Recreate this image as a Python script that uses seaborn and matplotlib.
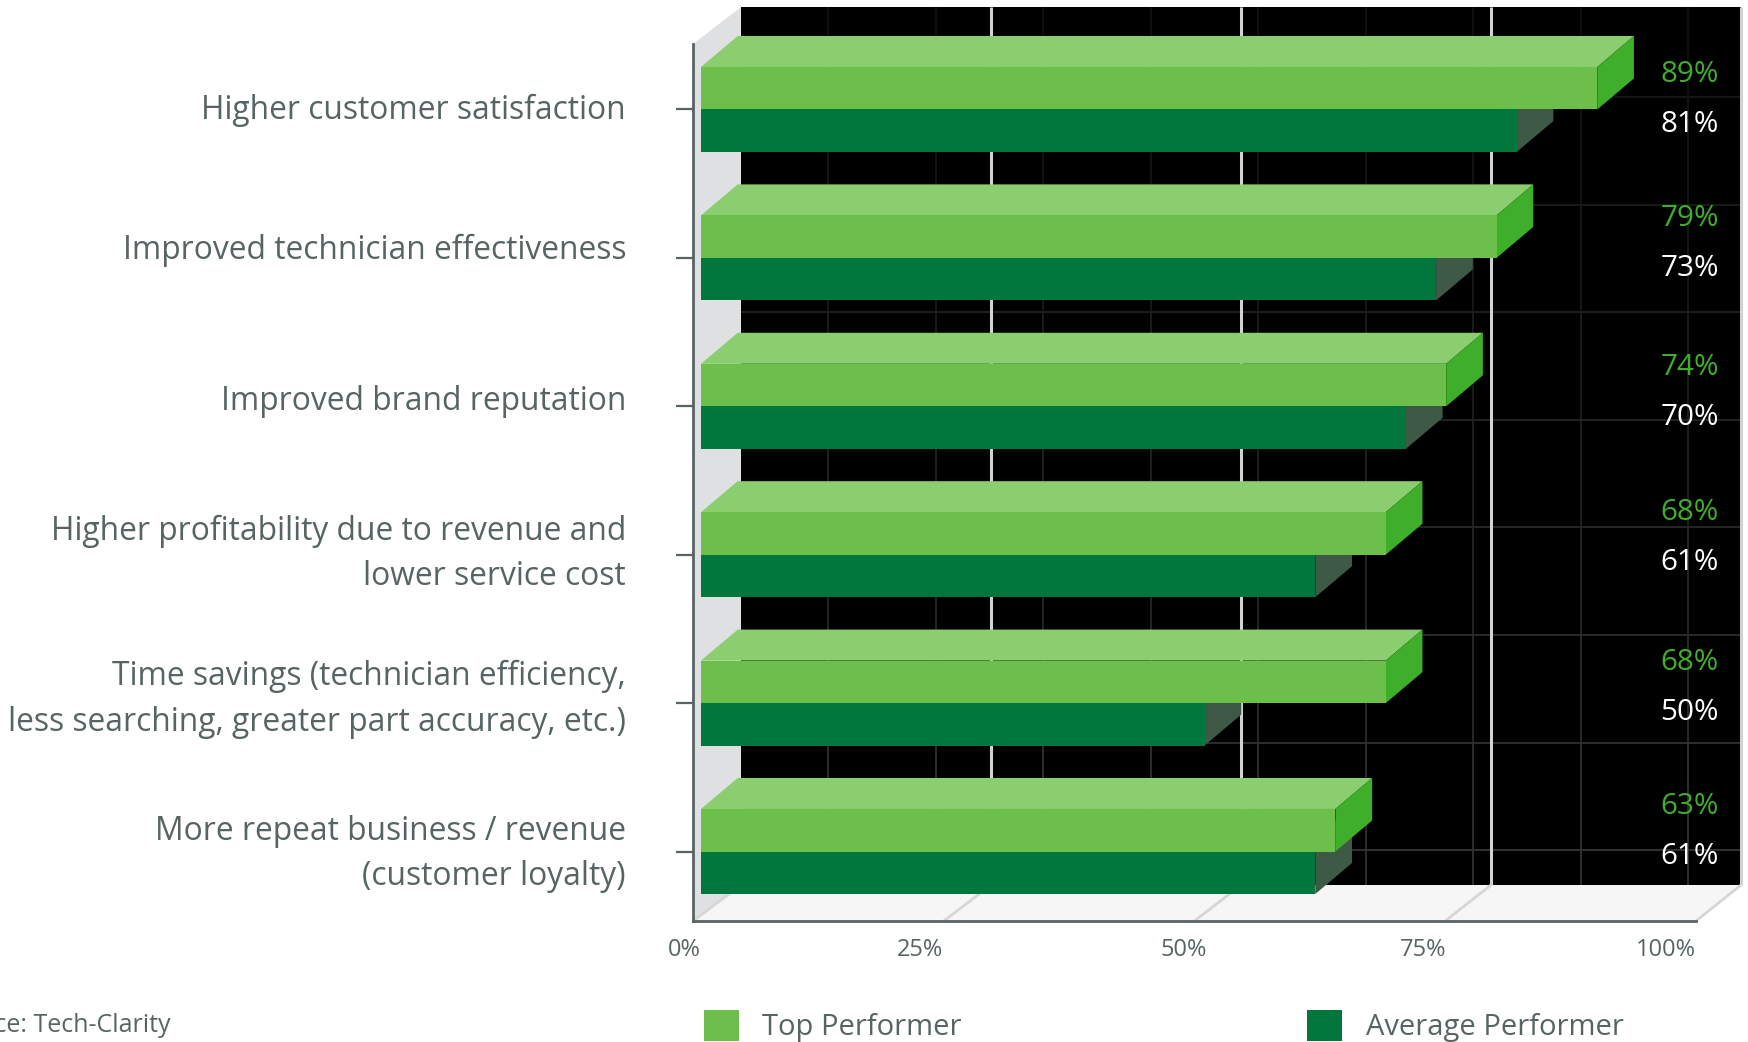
import pandas as pd
import matplotlib
matplotlib.use('Agg')
import matplotlib.pyplot as plt
import seaborn as sns
from matplotlib.patches import Polygon
from matplotlib.transforms import Affine2D

categories = ['Higher customer satisfaction', 'Improved technician effectiveness',
              'Improved brand reputation', 'Higher profitability due to revenue and\nlower service cost',
              'Time savings (technician efficiency,\nless searching, greater part accuracy, etc.)',
              'More repeat business / revenue\n(customer loyalty)']
top_performer = [89, 79, 74, 68, 68, 63]
avg_performer = [81, 73, 70, 61, 50, 61]
series_names = ['Top Performer', 'Average Performer']
x_labels = ['0%', '25%', '50%', '75%', '100%']

# layout, all in pixels from the top left of the picture
W, H = 1748, 1042
bar_x0, px_per_pct = 701, 10.07
front_l, front_r, front_t, front_b = 693, 1696, 44, 921
back_l, back_r, back_t, back_b = 741, 1741, 7, 885
row0, row_step = 109.5, 148.4
depth_x, depth_y = 36.7, 31
x_label_right = [701, 943, 1207, 1446, 1696]
label_mid_y = [100, 244, 392.5, 537, 688, 832]
label_right = 1719
ylabel_shift = [3.3, 12, 9, 11.2, 13.9, 7.8]

grey_text = '#586464'
light_top, light_front, light_side = '#8bce70', '#6dbf4b', '#3fae2a'
dark_front, dark_side = '#02773d', '#3e5a47'

df = pd.DataFrame({'category': categories * 2,
                   'pct': top_performer + avg_performer,
                   'group': [series_names[0]] * 6 + [series_names[1]] * 6})

sns.set_theme(style='white')
plt.rcParams['font.family'] = ['Open Sans', 'DejaVu Sans']

fig = plt.figure(figsize=(W / 100, H / 100), dpi=100)
ax = fig.add_axes([front_l / W, 1 - front_b / H, (front_r - front_l) / W, (front_b - front_t) / H])
ax.patch.set_alpha(0)

sns.barplot(data=df, y='category', x='pct', hue='group', orient='h', ax=ax,
            palette=[light_front, dark_front], saturation=1, width=0.573, gap=0,
            linewidth=0, zorder=5)

ax.set_xlim((front_l - bar_x0) / px_per_pct, (front_r - bar_x0) / px_per_pct)
ax.set_ylim((front_b - row0) / row_step, (front_t - row0) / row_step)
ax.set_xlabel('')
ax.set_ylabel('')

# pixel coords, y going down
px = Affine2D().scale(1, -1).translate(0, H)


def add_poly(points, color, z):
    ax.add_patch(Polygon(points, closed=True, facecolor=color, edgecolor='none',
                         transform=px, clip_on=False, zorder=z))


def add_line(xs, ys, color, lw, z):
    ax.plot(xs, ys, color=color, lw=lw, transform=px, clip_on=False, zorder=z,
            solid_capstyle='butt', scalex=False, scaley=False)


# the box: back wall, left wall, floor
add_poly([(back_l, back_t), (back_r, back_t), (back_r, back_b), (back_l, back_b)], 'black', 0)
add_poly([(front_l, front_t), (back_l, back_t), (back_l, back_b), (front_l, front_b)], '#dfe0e2', 0)
add_poly([(front_l, front_b), (front_r, front_b), (back_r, back_b), (back_l, back_b)], '#f6f6f6', 0)

# faint grid on the back wall, gets lighter towards the floor
h_lines = [97 + 107.6 * i for i in range(8)]
v_lines = [828 + 107.5 * i for i in range(9)]
for y in h_lines:
    g = 0.07 + 0.13 * y / back_b
    add_line([back_l, back_r], [y, y], (g, g, g), 1.4, 1)
steps = [back_t] + h_lines + [back_b]
for x in v_lines:
    for y0, y1 in zip(steps[:-1], steps[1:]):
        g = 0.05 + 0.16 * y1 / back_b
        add_line([x, x], [y0, y1], (g, g, g), 1.2, 1)

# major lines on the wall and the floor
for i in range(5):
    wall_x = back_l + (back_r - back_l) * i / 4
    floor_x = front_l + (front_r - front_l) * i / 4
    if i > 0:
        add_line([wall_x, wall_x], [back_t, back_b], '#d2d2d2', 2.2, 2)
    add_line([floor_x, wall_x], [front_b, back_b], '#d6d6d6', 2.0, 2)

# 3d faces, taken from the bars seaborn drew
to_px = ax.transData + px.inverted()
for container, top_col, side_col, z in zip(ax.containers, [light_top, dark_front],
                                           [light_side, dark_side], [4, 3]):
    for bar in container:
        x0, y0 = bar.get_x(), bar.get_y()
        x1, y1 = x0 + bar.get_width(), y0 + bar.get_height()
        (lx, by), (rx, ty) = to_px.transform([(x0, y1), (x1, y0)])
        add_poly([(lx, ty), (rx, ty), (rx + depth_x, ty - depth_y), (lx + depth_x, ty - depth_y)], top_col, z)
        add_poly([(rx, ty), (rx + depth_x, ty - depth_y), (rx + depth_x, by - depth_y), (rx, by)], side_col, z)

# values at the right side
for mid, top_val, avg_val in zip(label_mid_y, top_performer, avg_performer):
    ax.text(label_right, mid - 25, f'{top_val}%', color=light_side, fontsize=21.3, ha='right',
            va='center', transform=px, clip_on=False, zorder=7)
    ax.text(label_right, mid + 25, f'{avg_val}%', color='white', fontsize=21.3, ha='right',
            va='center', transform=px, clip_on=False, zorder=7)

ax.set_xticks([(p - bar_x0) / px_per_pct for p in x_label_right], x_labels, ha='right')
ax.tick_params(axis='x', length=0, pad=12.5, labelsize=17, labelcolor=grey_text)
ax.tick_params(axis='y', left=True, length=12.2, width=1.6, color=grey_text, pad=36,
               labelsize=22.9, labelcolor=grey_text)
for lab, shift in zip(ax.get_yticklabels(), ylabel_shift):
    lab.set_multialignment('right')
    lab.set_linespacing(1.5)
    lab.set_transform(lab.get_transform() + Affine2D().translate(0, shift))

sns.despine(ax=ax)
for side in ['left', 'bottom']:
    ax.spines[side].set_color(grey_text)
    ax.spines[side].set_linewidth(2.0)
    ax.spines[side].set_zorder(6)

sns.move_legend(ax, 'lower left', bbox_to_anchor=(704 / W, 0), bbox_transform=fig.transFigure,
                ncol=2, title=None, frameon=False, fontsize=21, labelcolor=grey_text,
                handlelength=1.2, handleheight=1.25, handletextpad=0.8, columnspacing=11.85,
                borderpad=0, borderaxespad=0)

fig.text(170 / W, 1 - 1025 / H, 'Source: Tech-Clarity', color=grey_text, fontsize=18, ha='right', va='center')

fig.savefig('out.png', dpi=100)
